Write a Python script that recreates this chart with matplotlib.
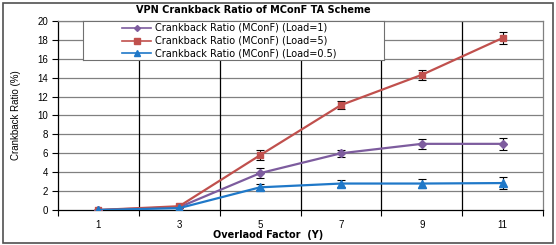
import numpy as np
import matplotlib.pyplot as plt
from matplotlib.lines import Line2D

plt.rcParams['font.family'] = ['Liberation Sans', 'DejaVu Sans']

# data
factors = ['1', '3', '5', '7', '9', '11']
load1 = [0, 0.3, 3.9, 6.0, 7.0, 7.0]
load1_err = [0, 0, 0.5, 0.4, 0.5, 0.6]
load5 = [0, 0.4, 5.8, 11.1, 14.3, 18.2]
load5_err = [0, 0, 0.5, 0.4, 0.5, 0.65]
load05 = [0, 0.2, 2.4, 2.8, 2.8, 2.85]
load05_err = [0, 0, 0.3, 0.35, 0.45, 0.6]
labels = ['Crankback Ratio (MConF) (Load=1)',
          'Crankback Ratio (MConF) (Load=5)',
          'Crankback Ratio (MConF) (Load=0.5)']

W, H = 556, 245
fig = plt.figure(figsize=(W / 100, H / 100), dpi=100)
ax = fig.add_axes([58/W, 1 - 210/H, (543-58)/W, (210-21)/H])

x = np.arange(len(factors))
series = [(load1, load1_err, '#7D5C9E', 'D', 4),
          (load5, load5_err, '#C0504D', 's', 5),
          (load05, load05_err, '#1F78C8', '^', 5.5)]
handles = []
for (vals, err, col, mk, ms), lab in zip(series, labels):
    ax.errorbar(x, vals, yerr=err, color=col, marker=mk, markersize=ms,
                linewidth=1.6, ecolor='black', elinewidth=0.8, capsize=3,
                capthick=0.8, zorder=3)
    handles.append(Line2D([], [], color=col, marker=mk, markersize=ms - 1,
                          linewidth=1.2, label=lab))

ax.set_xlim(-0.5, len(factors) - 0.5)
ax.set_ylim(0, 20)
ax.set_yticks(range(0, 21, 2))
ax.set_xticks(x)
ax.set_xticklabels(factors)
ax.set_xticks(np.arange(-0.5, len(factors)), minor=True)
ax.tick_params(axis='x', which='major', length=0, pad=7, labelsize=7)
ax.tick_params(axis='x', which='minor', length=4, direction='out', width=0.8)
ax.tick_params(axis='y', length=4, direction='out', width=0.8, labelsize=7, pad=3)

for yv in range(2, 21, 2):
    ax.axhline(yv, color='#808080', linewidth=0.9, zorder=1)
for xv in np.arange(0.5, len(factors) - 1):
    ax.axvline(xv, color='black', linewidth=0.9, zorder=1)

for s in ['top', 'right']:
    ax.spines[s].set_color('#808080')
    ax.spines[s].set_linewidth(0.9)
for s in ['left', 'bottom']:
    ax.spines[s].set_color('black')
    ax.spines[s].set_linewidth(0.9)

ax.set_ylabel('Crankback Ratio (%)', fontsize=7, labelpad=12)
fig.text(268/W, 1 - 235/H, 'Overlaod Factor  (Y)', ha='center', va='center',
         fontsize=7, fontweight='bold', family='DejaVu Sans')
fig.text(253/W, 1 - 10/H, 'VPN Crankback Ratio of MConF TA Scheme',
         ha='center', va='center', fontsize=7, fontweight='bold',
         family='DejaVu Sans')

# legend box (Excel draws it wider than its entries), as its own opaque axes
legax = fig.add_axes([83/W, 1 - 60/H, (384-83)/W, (60-21)/H], zorder=5)
legax.set_xticks([])
legax.set_yticks([])
for s in legax.spines.values():
    s.set_color('#707070')
    s.set_linewidth(0.8)
leg = legax.legend(handles=handles, loc='upper left',
                   bbox_to_anchor=(122/W, 1 - 23/H),
                   bbox_transform=fig.transFigure,
                   frameon=False, prop={'family': 'DejaVu Sans', 'size': 7},
                   borderpad=0, labelspacing=0.3, handlelength=3.0,
                   handletextpad=0.4, borderaxespad=0)

fig.patches.append(plt.Rectangle((3/W, 2/H), 550/W, 240/H,
                                 transform=fig.transFigure, fill=False,
                                 edgecolor='#505050', linewidth=1.2))

fig.savefig('out.png', dpi=100)
